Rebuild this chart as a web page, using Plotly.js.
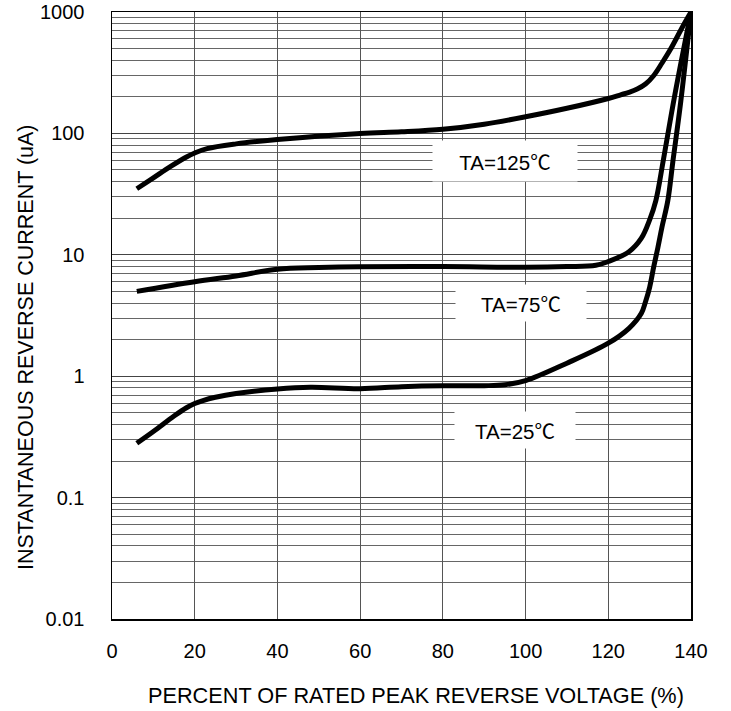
<!DOCTYPE html>
<html>
<head>
<meta charset="utf-8">
<script src="https://cdn.plot.ly/plotly-3.0.1.min.js"></script>
<style>html,body{margin:0;padding:0;background:#fff;}#chart{width:731px;height:711px;}</style>
</head>
<body>
<div id="chart"></div>
<script>
// Percent of rated peak reverse voltage (%) vs instantaneous reverse current (uA)
const x25 = [6, 10, 15, 18, 20, 22, 25, 30, 40, 48, 60, 70, 80, 90, 95, 100, 110, 120, 125, 128, 129, 130, 131, 132, 133, 134.4, 135.6, 137.5, 140];
const y25 = [0.28, 0.35, 0.47, 0.55, 0.595, 0.63, 0.67, 0.72, 0.785, 0.81, 0.79, 0.82, 0.835, 0.835, 0.85, 0.92, 1.28, 1.87, 2.48, 3.3, 4.1, 5.4, 8, 11.5, 17, 28, 58, 180, 1000];
const x75 = [6, 20, 30, 40, 50, 60, 80, 100, 110, 117, 120, 125, 128, 130, 131.5, 133.3, 136, 140];
const y75 = [5.0, 6.0, 6.7, 7.6, 7.85, 7.98, 8.0, 7.9, 8.0, 8.2, 8.8, 10.6, 13.7, 19.4, 28, 60, 200, 1000];
const x125 = [6, 10, 14, 18, 20, 23, 30, 40, 60, 70, 80, 90, 100, 110, 120, 123, 125, 127, 129, 131, 133, 135, 138, 140];
const y125 = [35, 43, 53, 64, 69, 75, 82, 89, 100, 103, 108, 119, 137, 161, 194, 208, 218, 232, 255, 300, 380, 490, 760, 1000];

const labels = ["TA=125", "TA=75", "TA=25"];
const degC = "℃";
const xTicks = [0, 20, 40, 60, 80, 100, 120, 140];
const yTicks = [0.01, 0.1, 1, 10, 100, 1000];
const yTickText = ["0.01", "0.1", "1", "10", "100", "1000"];
const xTitle = "PERCENT OF RATED PEAK REVERSE VOLTAGE (%)";
const yTitle = "INSTANTANEOUS REVERSE CURRENT (uA)";

const font = "Liberation Sans, Arial, sans-serif";
const lineStyle = {color: "#000", width: 5, shape: "spline", smoothing: 1.0};

const traces = [
  {x: x125, y: y125, mode: "lines", line: lineStyle, hoverinfo: "skip"},
  {x: x75, y: y75, mode: "lines", line: lineStyle, hoverinfo: "skip"},
  {x: x25, y: y25, mode: "lines", line: lineStyle, hoverinfo: "skip"}
];

const annPos = [
  {x: 95, y: 1.77, w: 142, h: 38},
  {x: 99, y: 0.60, w: 128, h: 34},
  {x: 97.5, y: -0.44, w: 118, h: 34}
];

const annotations = labels.map((t, i) => ({
  x: annPos[i].x, y: annPos[i].y, xref: "x", yref: "y",
  text: t + "<span style=\"font-family:'Noto Sans CJK SC'\">" + degC + "</span>",
  showarrow: false,
  bgcolor: "#fff", width: annPos[i].w, height: annPos[i].h,
  font: {family: font, size: 20.5, color: "#000"}
}));
annotations.push({
  x: -0.1485, y: 0.448, xref: "paper", yref: "paper",
  xanchor: "center", yanchor: "middle", textangle: -90,
  text: yTitle, showarrow: false,
  font: {family: font, size: 21.5, color: "#000"}
});
annotations.push({
  x: 0.525, y: -0.126, xref: "paper", yref: "paper",
  xanchor: "center", yanchor: "middle",
  text: xTitle, showarrow: false,
  font: {family: font, size: 21.7, color: "#000"}
});

const layout = {
  width: 731, height: 711,
  margin: {l: 112, r: 40, t: 12, b: 92},
  paper_bgcolor: "#fff", plot_bgcolor: "#fff",
  showlegend: false,
  font: {family: font, size: 20, color: "#000"},
  xaxis: {
    range: [0, 140], tickvals: xTicks, ticktext: xTicks.map(String),
    showgrid: true, gridcolor: "#555", gridwidth: 1,
    showline: true, linecolor: "#000", linewidth: 1.5, mirror: true,
    ticks: "outside", ticklen: 13, tickcolor: "rgba(0,0,0,0)",
    zeroline: false,
    tickfont: {family: font, size: 20}
  },
  yaxis: {
    type: "log", range: [-2, 3], tickvals: yTicks, ticktext: yTickText,
    showgrid: true, gridcolor: "#444", gridwidth: 1,
    minor: {dtick: "D1", showgrid: true, gridcolor: "#666", gridwidth: 1, ticks: ""},
    showline: true, linecolor: "#000", linewidth: 1.5, mirror: true,
    ticks: "outside", ticklen: 22, tickcolor: "rgba(0,0,0,0)",
    zeroline: false,
    tickfont: {family: font, size: 20}
  },
  annotations: annotations
};

Plotly.newPlot("chart", traces, layout, {staticPlot: true, displayModeBar: false});
</script>
</body>
</html>
